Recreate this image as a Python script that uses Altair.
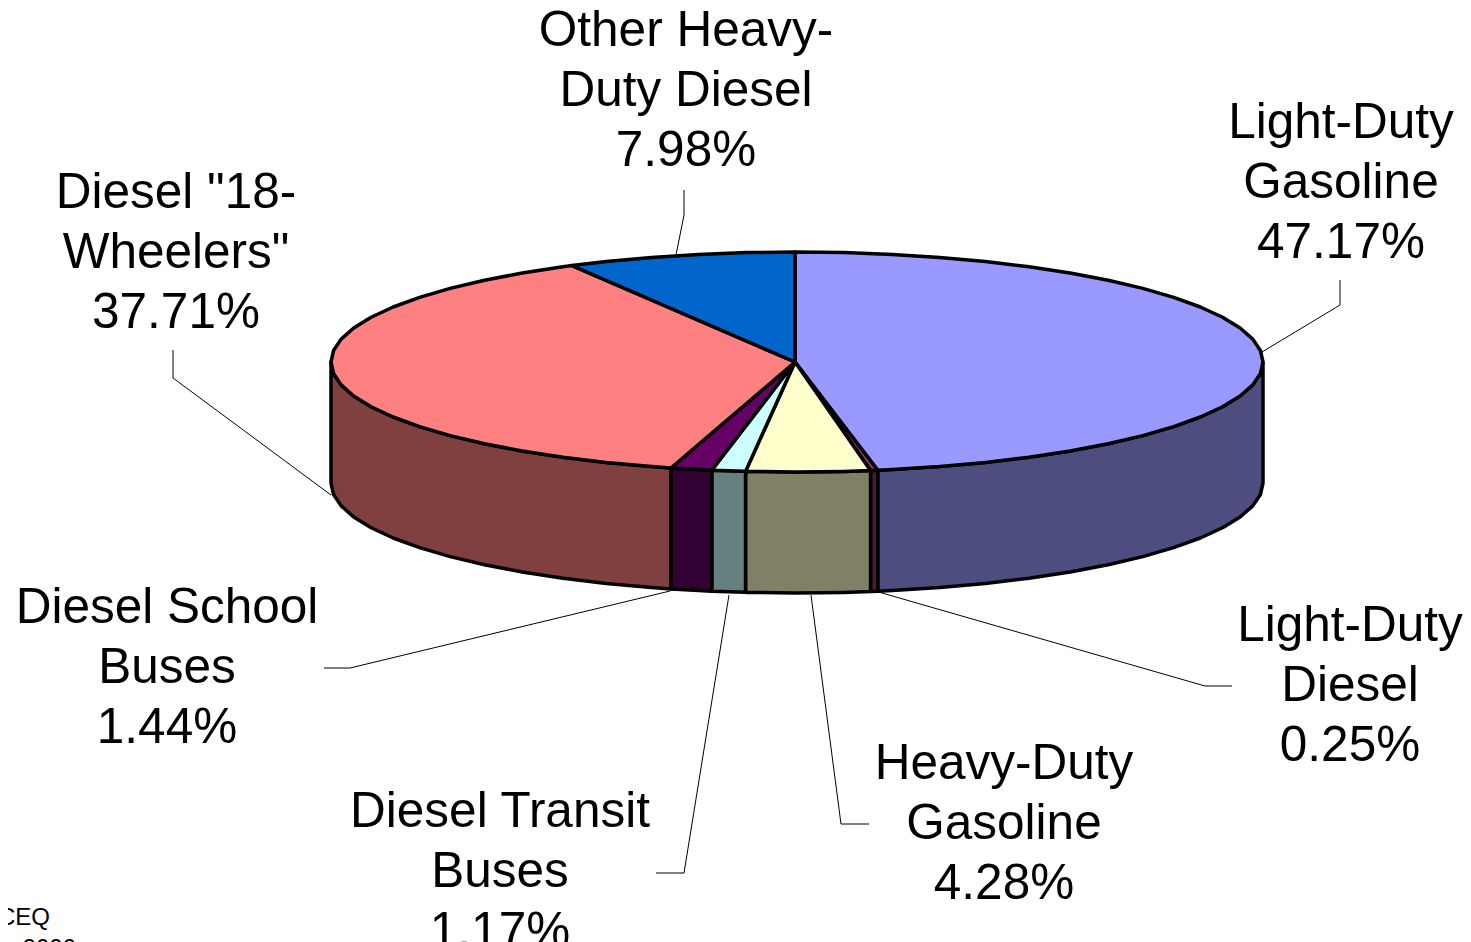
import math
import altair as alt
import pandas as pd

# Values
slices = ["Light-Duty Gasoline", "Light-Duty Diesel", "Heavy-Duty Gasoline", "Diesel Transit Buses",
          "Diesel School Buses", "Diesel 18-Wheelers", "Other Heavy-Duty Diesel"]
shares = [47.17, 0.25, 4.28, 1.17, 1.44, 37.71, 7.98]

# Styles
top_colors = ["#9999FF", "#993366", "#FFFFCC", "#CCFFFF", "#660066", "#FF8080", "#0066CC"]
side_colors = ["#4D4D80", "#4D1A33", "#808066", "#668080", "#330033", "#804040", "#003366"]

# Label text, separate from the layout
label_lines = [["Light-Duty", "Gasoline"], ["Light-Duty", "Diesel"], ["Heavy-Duty", "Gasoline"],
               ["Diesel Transit", "Buses"], ["Diesel School", "Buses"], ['Diesel "18-', 'Wheelers"'],
               ["Other Heavy-", "Duty Diesel"]]

# Layout, in the picture's pixels
CX, CY, RX_R, RX_L, RY, DEPTH, STEP = 795, 362, 468, 464, 110, 121, 6
label_x = [1341, 1350, 1004, 500, 167, 176, 686]
label_y = [138, 641, 779, 827, 623, 208, 46]
line_gap = 60
leaders = [
    [(1262, 352), (1340, 305), (1340, 280)],
    [(875, 591), (1205, 686), (1232, 686)],
    [(811, 595), (841, 824), (869, 824)],
    [(729, 595), (684, 873), (656, 873)],
    [(670, 591), (350, 668), (324, 668)],
    [(331, 495), (173, 378), (173, 350)],
    [(676, 255), (684, 215), (684, 190)],
]
notes = ["CEQ", "2000"]
note_x = [50, 76]
note_y = [925, 956]


def rim(a, dy=0):
    t = math.radians(a)
    s = math.sin(t)
    return CX + (RX_R if s > 0 else RX_L) * s, CY - RY * math.cos(t) + dy


def sweep(a0, a1):
    mids = []
    k = math.floor(a0 / STEP) + 1
    while k * STEP < a1:
        mids.append(k * STEP)
        k += 1
    return [a0] + mids + [a1]


tops, sides = [], []
start = 0.0
for name, share in zip(slices, shares):
    a0 = start * 3.6
    a1 = (start + share) * 3.6
    start += share
    ring = [(CX, CY)] + [rim(a) for a in sweep(a0, a1)] + [(CX, CY)]
    for i, (x, y) in enumerate(ring):
        tops.append({"part": "top " + name, "i": i, "x": x, "y": y})
    s0, s1 = max(a0, 90), min(a1, 270)
    if s0 < s1:
        arc = sweep(s0, s1)
        band = [rim(a) for a in arc] + [rim(a, DEPTH) for a in reversed(arc)]
        band.append(band[0])
        for i, (x, y) in enumerate(band):
            sides.append({"part": "side " + name, "i": i, "x": x, "y": y})

lead_rows = []
for name, pts in zip(slices, leaders):
    for i, (x, y) in enumerate(pts):
        lead_rows.append({"slice": name, "i": i, "x": x, "y": y})

text_rows = []
for lines, share, x, y in zip(label_lines, shares, label_x, label_y):
    for j, t in enumerate(lines + [f"{share:.2f}%"]):
        text_rows.append({"t": t, "x": x, "y": y + j * line_gap})

note_rows = [{"t": t, "x": x, "y": y} for t, x, y in zip(notes, note_x, note_y)]

parts = ["top " + s for s in slices] + ["side " + s for s in slices]
part_fill = alt.Fill("part:N", scale=alt.Scale(domain=parts, range=top_colors + side_colors), legend=None)

xs = alt.X("x:Q", scale=alt.Scale(domain=[8, 1463], range=[0, 1455]), axis=None)
ys = alt.Y("y:Q", scale=alt.Scale(domain=[8, 942], range=[0, 934]), axis=None)

side_layer = alt.Chart(pd.DataFrame(sides)).mark_line(stroke="black", strokeWidth=3.5, strokeJoin="round", clip=True).encode(
    x=xs, y=ys, order="i:Q", fill=part_fill,
)
top_layer = alt.Chart(pd.DataFrame(tops)).mark_line(stroke="black", strokeWidth=3.5, strokeJoin="round", clip=True).encode(
    x=xs, y=ys, order="i:Q", fill=part_fill,
)
lead_layer = alt.Chart(pd.DataFrame(lead_rows)).mark_line(color="black", strokeWidth=1).encode(
    x=xs, y=ys, order="i:Q", detail="slice:N",
)
text_layer = alt.Chart(pd.DataFrame(text_rows)).mark_text(
    font="Liberation Sans", fontSize=49.5, align="center", baseline="alphabetic", color="black"
).encode(x=xs, y=ys, text="t:N")
note_layer = alt.Chart(pd.DataFrame(note_rows)).mark_text(
    font="Liberation Sans", fontSize=24, align="right", baseline="alphabetic", color="black"
).encode(x=xs, y=ys, text="t:N")

chart = alt.layer(lead_layer, side_layer, top_layer, text_layer, note_layer).properties(
    width=1455, height=934, padding=0, autosize=alt.AutoSizeParams(type="none")
).configure_view(stroke=None)

chart.save("out.html", embed_options={"renderer": "svg", "actions": False})
